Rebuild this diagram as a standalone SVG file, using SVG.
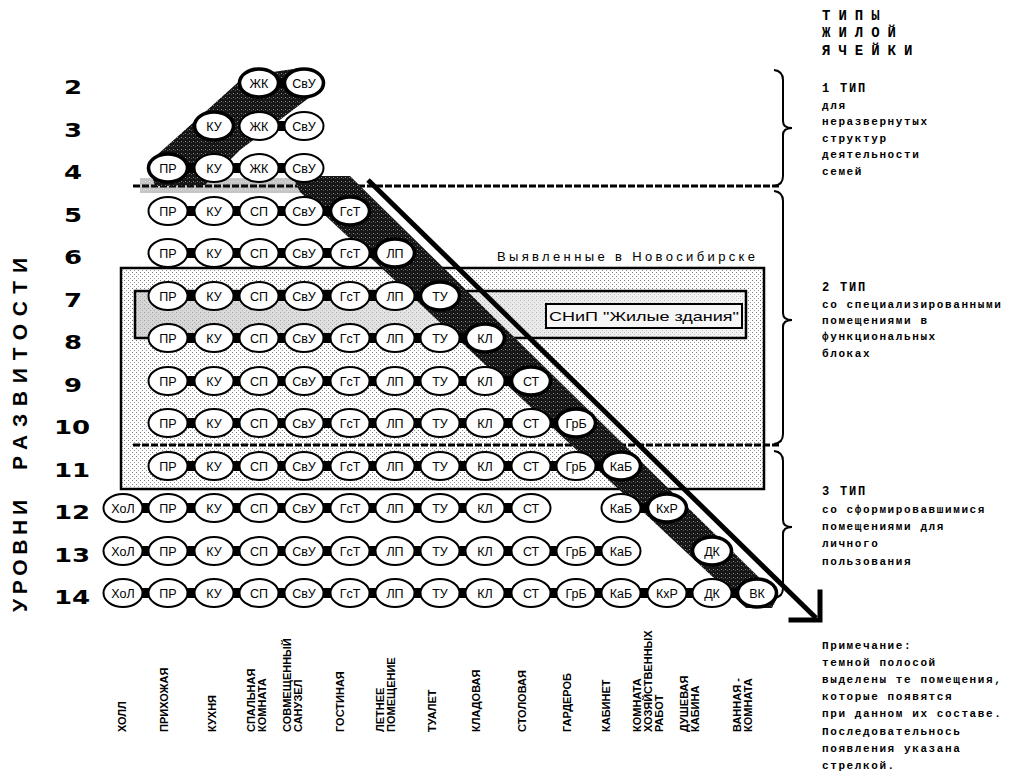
<svg xmlns="http://www.w3.org/2000/svg" width="1015" height="778" viewBox="0 0 1015 778">
<defs>
<pattern id="stip" width="4" height="4" patternUnits="userSpaceOnUse"><rect width="4" height="4" fill="#fff"/><rect x="0" y="0" width="1" height="1" fill="#777"/><rect x="2" y="2" width="1" height="1" fill="#999"/></pattern>
<pattern id="dark" width="4" height="4" patternUnits="userSpaceOnUse"><rect width="4" height="4" fill="#161616"/><rect x="1" y="1" width="1" height="1" fill="#888"/><rect x="3" y="2" width="1" height="1" fill="#555"/></pattern>
<linearGradient id="inner" x1="0" y1="0" x2="1" y2="0"><stop offset="0" stop-color="#b9b9b9"/><stop offset="0.55" stop-color="#d8d8d8"/><stop offset="1" stop-color="#ededed"/></linearGradient>
<style>
.n ellipse{fill:#fff;stroke:#000;stroke-width:2}
.n.b ellipse{stroke-width:3.6}
.n text{font-family:"Liberation Sans",Arial,sans-serif;font-size:12.5px;text-anchor:middle;fill:#000}
.con line{stroke:#000;stroke-width:10}
.dash{stroke:#000;stroke-width:3;stroke-dasharray:7 2}
.rn{font-family:"DejaVu Sans",sans-serif;font-weight:bold;font-size:20px;text-anchor:middle}
.bl{font-family:"Liberation Sans",Arial,sans-serif;font-weight:bold;font-size:11px}
.rt{font-family:"Liberation Mono","Courier New",monospace;font-weight:bold;font-size:11px;letter-spacing:1.6px}
.rh{font-family:"Liberation Mono","Courier New",monospace;font-weight:bold;font-size:12px;letter-spacing:1.8px}
.brace{fill:none;stroke:#000;stroke-width:2}
</style>
</defs>
<rect width="1015" height="778" fill="#fff"/>

<g id="zone-novosibirsk">
<rect x="121" y="268" width="643" height="221" fill="url(#stip)" stroke="#000" stroke-width="2.5"/>
<rect x="135" y="291" width="611" height="47" fill="url(#inner)" fill-opacity="0.6" stroke="#000" stroke-width="2.5"/>
<rect x="546" y="304" width="196" height="24" fill="#f6f6f6" stroke="#000" stroke-width="2"/>
<text x="549" y="321" font-family="Liberation Sans, Arial, sans-serif" font-size="13" textLength="190" lengthAdjust="spacingAndGlyphs">СНиП "Жилые здания"</text>
<text x="497" y="261" font-family="Liberation Sans, Arial, sans-serif" font-size="13" textLength="258" lengthAdjust="spacing">Выявленные в Новосибирске</text>
</g>

<g id="dividers">
<line class="dash" x1="133" y1="186" x2="780" y2="186"/>
<line class="dash" x1="133" y1="445" x2="780" y2="445"/>
</g>

<g id="dark-band">
<rect x="140" y="178" width="200" height="15" fill="url(#dark)" opacity="0.25"/>
<polygon points="148,163 205,112 245,76 300,68 322,88 240,150 205,185 155,186" fill="url(#dark)"/>
<polygon points="292,176 350,176 778,596 772,608 746,608 300,192" fill="url(#dark)"/>
</g>

<g id="connectors" class="con">
<line x1="259" y1="83" x2="304" y2="83"/>
<line x1="259" y1="126" x2="304" y2="126"/>
<line x1="168" y1="168" x2="304" y2="168"/>
<line x1="168" y1="211" x2="350" y2="211"/>
<line x1="168" y1="253" x2="395" y2="253"/>
<line x1="168" y1="296" x2="440" y2="296"/>
<line x1="168" y1="338" x2="485" y2="338"/>
<line x1="168" y1="381" x2="531" y2="381"/>
<line x1="168" y1="423" x2="576" y2="423"/>
<line x1="168" y1="466" x2="621" y2="466"/>
<line x1="123" y1="508" x2="531" y2="508"/>
<line x1="621" y1="508" x2="667" y2="508"/>
<line x1="123" y1="551" x2="621" y2="551"/>
<line x1="123" y1="593" x2="757" y2="593"/>
</g>

<g id="nodes">
<g id="r2-zk" class="n b"><ellipse cx="259" cy="83" rx="19.5" ry="14"/><text x="259" y="87.5">ЖК</text></g>
<g id="r2-svu" class="n b"><ellipse cx="304" cy="83" rx="19.5" ry="14"/><text x="304" y="87.5">СвУ</text></g>

<g id="r3-ku" class="n b"><ellipse cx="214" cy="126" rx="19.5" ry="14"/><text x="214" y="130.5">КУ</text></g>
<g id="r3-zk" class="n"><ellipse cx="259" cy="126" rx="19.5" ry="14"/><text x="259" y="130.5">ЖК</text></g>
<g id="r3-svu" class="n"><ellipse cx="304" cy="126" rx="19.5" ry="14"/><text x="304" y="130.5">СвУ</text></g>

<g id="r4-pr" class="n b"><ellipse cx="168" cy="168" rx="19.5" ry="14"/><text x="168" y="172.5">ПР</text></g>
<g id="r4-ku" class="n"><ellipse cx="214" cy="168" rx="19.5" ry="14"/><text x="214" y="172.5">КУ</text></g>
<g id="r4-zk" class="n"><ellipse cx="259" cy="168" rx="19.5" ry="14"/><text x="259" y="172.5">ЖК</text></g>
<g id="r4-svu" class="n"><ellipse cx="304" cy="168" rx="19.5" ry="14"/><text x="304" y="172.5">СвУ</text></g>

<g id="r5-pr" class="n"><ellipse cx="168" cy="211" rx="19.5" ry="14"/><text x="168" y="215.5">ПР</text></g>
<g id="r5-ku" class="n"><ellipse cx="214" cy="211" rx="19.5" ry="14"/><text x="214" y="215.5">КУ</text></g>
<g id="r5-sp" class="n"><ellipse cx="259" cy="211" rx="19.5" ry="14"/><text x="259" y="215.5">СП</text></g>
<g id="r5-svu" class="n"><ellipse cx="304" cy="211" rx="19.5" ry="14"/><text x="304" y="215.5">СвУ</text></g>
<g id="r5-gst" class="n b"><ellipse cx="350" cy="211" rx="19.5" ry="14"/><text x="350" y="215.5">ГсТ</text></g>

<g id="r6-pr" class="n"><ellipse cx="168" cy="253" rx="19.5" ry="14"/><text x="168" y="257.5">ПР</text></g>
<g id="r6-ku" class="n"><ellipse cx="214" cy="253" rx="19.5" ry="14"/><text x="214" y="257.5">КУ</text></g>
<g id="r6-sp" class="n"><ellipse cx="259" cy="253" rx="19.5" ry="14"/><text x="259" y="257.5">СП</text></g>
<g id="r6-svu" class="n"><ellipse cx="304" cy="253" rx="19.5" ry="14"/><text x="304" y="257.5">СвУ</text></g>
<g id="r6-gst" class="n"><ellipse cx="350" cy="253" rx="19.5" ry="14"/><text x="350" y="257.5">ГсТ</text></g>
<g id="r6-lp" class="n b"><ellipse cx="395" cy="253" rx="19.5" ry="14"/><text x="395" y="257.5">ЛП</text></g>

<g id="r7-pr" class="n"><ellipse cx="168" cy="296" rx="19.5" ry="14"/><text x="168" y="300.5">ПР</text></g>
<g id="r7-ku" class="n"><ellipse cx="214" cy="296" rx="19.5" ry="14"/><text x="214" y="300.5">КУ</text></g>
<g id="r7-sp" class="n"><ellipse cx="259" cy="296" rx="19.5" ry="14"/><text x="259" y="300.5">СП</text></g>
<g id="r7-svu" class="n"><ellipse cx="304" cy="296" rx="19.5" ry="14"/><text x="304" y="300.5">СвУ</text></g>
<g id="r7-gst" class="n"><ellipse cx="350" cy="296" rx="19.5" ry="14"/><text x="350" y="300.5">ГсТ</text></g>
<g id="r7-lp" class="n"><ellipse cx="395" cy="296" rx="19.5" ry="14"/><text x="395" y="300.5">ЛП</text></g>
<g id="r7-tu" class="n b"><ellipse cx="440" cy="296" rx="19.5" ry="14"/><text x="440" y="300.5">ТУ</text></g>

<g id="r8-pr" class="n"><ellipse cx="168" cy="338" rx="19.5" ry="14"/><text x="168" y="342.5">ПР</text></g>
<g id="r8-ku" class="n"><ellipse cx="214" cy="338" rx="19.5" ry="14"/><text x="214" y="342.5">КУ</text></g>
<g id="r8-sp" class="n"><ellipse cx="259" cy="338" rx="19.5" ry="14"/><text x="259" y="342.5">СП</text></g>
<g id="r8-svu" class="n"><ellipse cx="304" cy="338" rx="19.5" ry="14"/><text x="304" y="342.5">СвУ</text></g>
<g id="r8-gst" class="n"><ellipse cx="350" cy="338" rx="19.5" ry="14"/><text x="350" y="342.5">ГсТ</text></g>
<g id="r8-lp" class="n"><ellipse cx="395" cy="338" rx="19.5" ry="14"/><text x="395" y="342.5">ЛП</text></g>
<g id="r8-tu" class="n"><ellipse cx="440" cy="338" rx="19.5" ry="14"/><text x="440" y="342.5">ТУ</text></g>
<g id="r8-kl" class="n b"><ellipse cx="485" cy="338" rx="19.5" ry="14"/><text x="485" y="342.5">КЛ</text></g>

<g id="r9-pr" class="n"><ellipse cx="168" cy="381" rx="19.5" ry="14"/><text x="168" y="385.5">ПР</text></g>
<g id="r9-ku" class="n"><ellipse cx="214" cy="381" rx="19.5" ry="14"/><text x="214" y="385.5">КУ</text></g>
<g id="r9-sp" class="n"><ellipse cx="259" cy="381" rx="19.5" ry="14"/><text x="259" y="385.5">СП</text></g>
<g id="r9-svu" class="n"><ellipse cx="304" cy="381" rx="19.5" ry="14"/><text x="304" y="385.5">СвУ</text></g>
<g id="r9-gst" class="n"><ellipse cx="350" cy="381" rx="19.5" ry="14"/><text x="350" y="385.5">ГсТ</text></g>
<g id="r9-lp" class="n"><ellipse cx="395" cy="381" rx="19.5" ry="14"/><text x="395" y="385.5">ЛП</text></g>
<g id="r9-tu" class="n"><ellipse cx="440" cy="381" rx="19.5" ry="14"/><text x="440" y="385.5">ТУ</text></g>
<g id="r9-kl" class="n"><ellipse cx="485" cy="381" rx="19.5" ry="14"/><text x="485" y="385.5">КЛ</text></g>
<g id="r9-st" class="n b"><ellipse cx="531" cy="381" rx="19.5" ry="14"/><text x="531" y="385.5">СТ</text></g>

<g id="r10-pr" class="n"><ellipse cx="168" cy="423" rx="19.5" ry="14"/><text x="168" y="427.5">ПР</text></g>
<g id="r10-ku" class="n"><ellipse cx="214" cy="423" rx="19.5" ry="14"/><text x="214" y="427.5">КУ</text></g>
<g id="r10-sp" class="n"><ellipse cx="259" cy="423" rx="19.5" ry="14"/><text x="259" y="427.5">СП</text></g>
<g id="r10-svu" class="n"><ellipse cx="304" cy="423" rx="19.5" ry="14"/><text x="304" y="427.5">СвУ</text></g>
<g id="r10-gst" class="n"><ellipse cx="350" cy="423" rx="19.5" ry="14"/><text x="350" y="427.5">ГсТ</text></g>
<g id="r10-lp" class="n"><ellipse cx="395" cy="423" rx="19.5" ry="14"/><text x="395" y="427.5">ЛП</text></g>
<g id="r10-tu" class="n"><ellipse cx="440" cy="423" rx="19.5" ry="14"/><text x="440" y="427.5">ТУ</text></g>
<g id="r10-kl" class="n"><ellipse cx="485" cy="423" rx="19.5" ry="14"/><text x="485" y="427.5">КЛ</text></g>
<g id="r10-st" class="n"><ellipse cx="531" cy="423" rx="19.5" ry="14"/><text x="531" y="427.5">СТ</text></g>
<g id="r10-grb" class="n b"><ellipse cx="576" cy="423" rx="19.5" ry="14"/><text x="576" y="427.5">ГрБ</text></g>

<g id="r11-pr" class="n"><ellipse cx="168" cy="466" rx="19.5" ry="14"/><text x="168" y="470.5">ПР</text></g>
<g id="r11-ku" class="n"><ellipse cx="214" cy="466" rx="19.5" ry="14"/><text x="214" y="470.5">КУ</text></g>
<g id="r11-sp" class="n"><ellipse cx="259" cy="466" rx="19.5" ry="14"/><text x="259" y="470.5">СП</text></g>
<g id="r11-svu" class="n"><ellipse cx="304" cy="466" rx="19.5" ry="14"/><text x="304" y="470.5">СвУ</text></g>
<g id="r11-gst" class="n"><ellipse cx="350" cy="466" rx="19.5" ry="14"/><text x="350" y="470.5">ГсТ</text></g>
<g id="r11-lp" class="n"><ellipse cx="395" cy="466" rx="19.5" ry="14"/><text x="395" y="470.5">ЛП</text></g>
<g id="r11-tu" class="n"><ellipse cx="440" cy="466" rx="19.5" ry="14"/><text x="440" y="470.5">ТУ</text></g>
<g id="r11-kl" class="n"><ellipse cx="485" cy="466" rx="19.5" ry="14"/><text x="485" y="470.5">КЛ</text></g>
<g id="r11-st" class="n"><ellipse cx="531" cy="466" rx="19.5" ry="14"/><text x="531" y="470.5">СТ</text></g>
<g id="r11-grb" class="n"><ellipse cx="576" cy="466" rx="19.5" ry="14"/><text x="576" y="470.5">ГрБ</text></g>
<g id="r11-kab" class="n b"><ellipse cx="621" cy="466" rx="19.5" ry="14"/><text x="621" y="470.5">КаБ</text></g>

<g id="r12-hol" class="n"><ellipse cx="123" cy="508" rx="19.5" ry="14"/><text x="123" y="512.5">ХоЛ</text></g>
<g id="r12-pr" class="n"><ellipse cx="168" cy="508" rx="19.5" ry="14"/><text x="168" y="512.5">ПР</text></g>
<g id="r12-ku" class="n"><ellipse cx="214" cy="508" rx="19.5" ry="14"/><text x="214" y="512.5">КУ</text></g>
<g id="r12-sp" class="n"><ellipse cx="259" cy="508" rx="19.5" ry="14"/><text x="259" y="512.5">СП</text></g>
<g id="r12-svu" class="n"><ellipse cx="304" cy="508" rx="19.5" ry="14"/><text x="304" y="512.5">СвУ</text></g>
<g id="r12-gst" class="n"><ellipse cx="350" cy="508" rx="19.5" ry="14"/><text x="350" y="512.5">ГсТ</text></g>
<g id="r12-lp" class="n"><ellipse cx="395" cy="508" rx="19.5" ry="14"/><text x="395" y="512.5">ЛП</text></g>
<g id="r12-tu" class="n"><ellipse cx="440" cy="508" rx="19.5" ry="14"/><text x="440" y="512.5">ТУ</text></g>
<g id="r12-kl" class="n"><ellipse cx="485" cy="508" rx="19.5" ry="14"/><text x="485" y="512.5">КЛ</text></g>
<g id="r12-st" class="n"><ellipse cx="531" cy="508" rx="19.5" ry="14"/><text x="531" y="512.5">СТ</text></g>
<g id="r12-kab" class="n"><ellipse cx="621" cy="508" rx="19.5" ry="14"/><text x="621" y="512.5">КаБ</text></g>
<g id="r12-khr" class="n b"><ellipse cx="667" cy="508" rx="19.5" ry="14"/><text x="667" y="512.5">КхР</text></g>

<g id="r13-hol" class="n"><ellipse cx="123" cy="551" rx="19.5" ry="14"/><text x="123" y="555.5">ХоЛ</text></g>
<g id="r13-pr" class="n"><ellipse cx="168" cy="551" rx="19.5" ry="14"/><text x="168" y="555.5">ПР</text></g>
<g id="r13-ku" class="n"><ellipse cx="214" cy="551" rx="19.5" ry="14"/><text x="214" y="555.5">КУ</text></g>
<g id="r13-sp" class="n"><ellipse cx="259" cy="551" rx="19.5" ry="14"/><text x="259" y="555.5">СП</text></g>
<g id="r13-svu" class="n"><ellipse cx="304" cy="551" rx="19.5" ry="14"/><text x="304" y="555.5">СвУ</text></g>
<g id="r13-gst" class="n"><ellipse cx="350" cy="551" rx="19.5" ry="14"/><text x="350" y="555.5">ГсТ</text></g>
<g id="r13-lp" class="n"><ellipse cx="395" cy="551" rx="19.5" ry="14"/><text x="395" y="555.5">ЛП</text></g>
<g id="r13-tu" class="n"><ellipse cx="440" cy="551" rx="19.5" ry="14"/><text x="440" y="555.5">ТУ</text></g>
<g id="r13-kl" class="n"><ellipse cx="485" cy="551" rx="19.5" ry="14"/><text x="485" y="555.5">КЛ</text></g>
<g id="r13-st" class="n"><ellipse cx="531" cy="551" rx="19.5" ry="14"/><text x="531" y="555.5">СТ</text></g>
<g id="r13-grb" class="n"><ellipse cx="576" cy="551" rx="19.5" ry="14"/><text x="576" y="555.5">ГрБ</text></g>
<g id="r13-kab" class="n"><ellipse cx="621" cy="551" rx="19.5" ry="14"/><text x="621" y="555.5">КаБ</text></g>
<g id="r13-dk" class="n b"><ellipse cx="712" cy="551" rx="19.5" ry="14"/><text x="712" y="555.5">ДК</text></g>

<g id="r14-hol" class="n"><ellipse cx="123" cy="593" rx="19.5" ry="14"/><text x="123" y="597.5">ХоЛ</text></g>
<g id="r14-pr" class="n"><ellipse cx="168" cy="593" rx="19.5" ry="14"/><text x="168" y="597.5">ПР</text></g>
<g id="r14-ku" class="n"><ellipse cx="214" cy="593" rx="19.5" ry="14"/><text x="214" y="597.5">КУ</text></g>
<g id="r14-sp" class="n"><ellipse cx="259" cy="593" rx="19.5" ry="14"/><text x="259" y="597.5">СП</text></g>
<g id="r14-svu" class="n"><ellipse cx="304" cy="593" rx="19.5" ry="14"/><text x="304" y="597.5">СвУ</text></g>
<g id="r14-gst" class="n"><ellipse cx="350" cy="593" rx="19.5" ry="14"/><text x="350" y="597.5">ГсТ</text></g>
<g id="r14-lp" class="n"><ellipse cx="395" cy="593" rx="19.5" ry="14"/><text x="395" y="597.5">ЛП</text></g>
<g id="r14-tu" class="n"><ellipse cx="440" cy="593" rx="19.5" ry="14"/><text x="440" y="597.5">ТУ</text></g>
<g id="r14-kl" class="n"><ellipse cx="485" cy="593" rx="19.5" ry="14"/><text x="485" y="597.5">КЛ</text></g>
<g id="r14-st" class="n"><ellipse cx="531" cy="593" rx="19.5" ry="14"/><text x="531" y="597.5">СТ</text></g>
<g id="r14-grb" class="n"><ellipse cx="576" cy="593" rx="19.5" ry="14"/><text x="576" y="597.5">ГрБ</text></g>
<g id="r14-kab" class="n"><ellipse cx="621" cy="593" rx="19.5" ry="14"/><text x="621" y="597.5">КаБ</text></g>
<g id="r14-khr" class="n"><ellipse cx="667" cy="593" rx="19.5" ry="14"/><text x="667" y="597.5">КхР</text></g>
<g id="r14-dk" class="n"><ellipse cx="712" cy="593" rx="19.5" ry="14"/><text x="712" y="597.5">ДК</text></g>
<g id="r14-vk" class="n b"><ellipse cx="757" cy="593" rx="19.5" ry="14"/><text x="757" y="597.5">ВК</text></g>
</g>

<g id="arrow" fill="none" stroke="#000" stroke-width="5">
<line x1="368" y1="180" x2="816" y2="618"/>
<path d="M791,620 H820 V592" stroke-linecap="square"/>
</g>

<g id="row-numbers" class="rn">
<text transform="translate(73,94) scale(1.3,1)">2</text>
<text transform="translate(73,137) scale(1.3,1)">3</text>
<text transform="translate(73,179) scale(1.3,1)">4</text>
<text transform="translate(73,222) scale(1.3,1)">5</text>
<text transform="translate(73,264) scale(1.3,1)">6</text>
<text transform="translate(73,307) scale(1.3,1)">7</text>
<text transform="translate(73,349) scale(1.3,1)">8</text>
<text transform="translate(73,392) scale(1.3,1)">9</text>
<text transform="translate(72,434) scale(1.3,1)">10</text>
<text transform="translate(72,477) scale(1.3,1)">11</text>
<text transform="translate(72,519) scale(1.3,1)">12</text>
<text transform="translate(72,562) scale(1.3,1)">13</text>
<text transform="translate(72,604) scale(1.3,1)">14</text>
</g>

<g id="axis-label" font-family="Liberation Sans, Arial, sans-serif" font-weight="bold" font-size="21">
<text transform="translate(27,612) rotate(-90)" textLength="112" lengthAdjust="spacing">УРОВНИ</text>
<text transform="translate(27,470) rotate(-90)" textLength="212" lengthAdjust="spacing">РАЗВИТОСТИ</text>
</g>

<g id="column-labels" class="bl">
<text transform="translate(126,732) rotate(-90)">ХОЛЛ</text>
<text transform="translate(168,732) rotate(-90)">ПРИХОЖАЯ</text>
<text transform="translate(216,732) rotate(-90)">КУХНЯ</text>
<text transform="translate(255,732) rotate(-90)">СПАЛЬНАЯ<tspan x="0" dy="11">КОМНАТА</tspan></text>
<text transform="translate(291,732) rotate(-90)">СОВМЕЩЕННЫЙ<tspan x="0" dy="11">САНУЗЕЛ</tspan></text>
<text transform="translate(344,732) rotate(-90)">ГОСТИНАЯ</text>
<text transform="translate(384,732) rotate(-90)">ЛЕТНЕЕ<tspan x="0" dy="11">ПОМЕЩЕНИЕ</tspan></text>
<text transform="translate(436,732) rotate(-90)">ТУАЛЕТ</text>
<text transform="translate(480,732) rotate(-90)">КЛАДОВАЯ</text>
<text transform="translate(526,732) rotate(-90)">СТОЛОВАЯ</text>
<text transform="translate(571,732) rotate(-90)">ГАРДЕРОБ</text>
<text transform="translate(610,732) rotate(-90)">КАБИНЕТ</text>
<text transform="translate(641,732) rotate(-90)">КОМНАТА<tspan x="0" dy="11">ХОЗЯЙСТВЕННЫХ</tspan><tspan x="0" dy="11">РАБОТ</tspan></text>
<text transform="translate(688,732) rotate(-90)">ДУШЕВАЯ<tspan x="0" dy="11">КАБИНА</tspan></text>
<text transform="translate(741,732) rotate(-90)">ВАННАЯ -<tspan x="0" dy="11">КОМНАТА</tspan></text>
</g>

<g id="braces" class="brace">
<path d="M774,70 Q783,71 783,80 L783,121 Q783,128 792,128 Q783,128 783,135 L783,176 Q783,185 774,186"/>
<path d="M774,191 Q783,192 783,201 L783,313 Q783,320 792,320 Q783,320 783,327 L783,434 Q783,443 774,444"/>
<path d="M774,451 Q783,452 783,461 L783,520 Q783,527 792,527 Q783,527 783,534 L783,588 Q783,597 774,598"/>
</g>

<g id="legend-title" font-family="Liberation Mono, Courier New, monospace" font-weight="bold" font-size="14" letter-spacing="8">
<text x="822" y="20">ТИПЫ</text>
<text x="822" y="37">ЖИЛОЙ</text>
<text x="822" y="55">ЯЧЕЙКИ</text>
</g>

<g id="type1">
<text class="rh" x="822" y="92">1 ТИП</text>
<text class="rt" x="822" y="108.5">для</text>
<text class="rt" x="822" y="125">неразвернутых</text>
<text class="rt" x="822" y="141.5">структур</text>
<text class="rt" x="822" y="158">деятельности</text>
<text class="rt" x="822" y="174.5">семей</text>
</g>

<g id="type2">
<text class="rh" x="822" y="291">2 ТИП</text>
<text class="rt" x="822" y="308">со специализированными</text>
<text class="rt" x="822" y="324">помещениями в</text>
<text class="rt" x="822" y="340">функциональных</text>
<text class="rt" x="822" y="357">блоках</text>
</g>

<g id="type3">
<text class="rh" x="822" y="495">3 ТИП</text>
<text class="rt" x="822" y="513">со сформировавшимися</text>
<text class="rt" x="822" y="530">помещениями для</text>
<text class="rt" x="822" y="547">личного</text>
<text class="rt" x="822" y="565">пользования</text>
</g>

<g id="note">
<text class="rt" x="822" y="649">Примечание:</text>
<text class="rt" x="822" y="666">темной полосой</text>
<text class="rt" x="822" y="683">выделены те помещения,</text>
<text class="rt" x="822" y="700">которые появятся</text>
<text class="rt" x="822" y="717">при данном их составе.</text>
<text class="rt" x="822" y="735">Последовательнось</text>
<text class="rt" x="822" y="752">появления указана</text>
<text class="rt" x="822" y="769">стрелкой.</text>
</g>
</svg>
